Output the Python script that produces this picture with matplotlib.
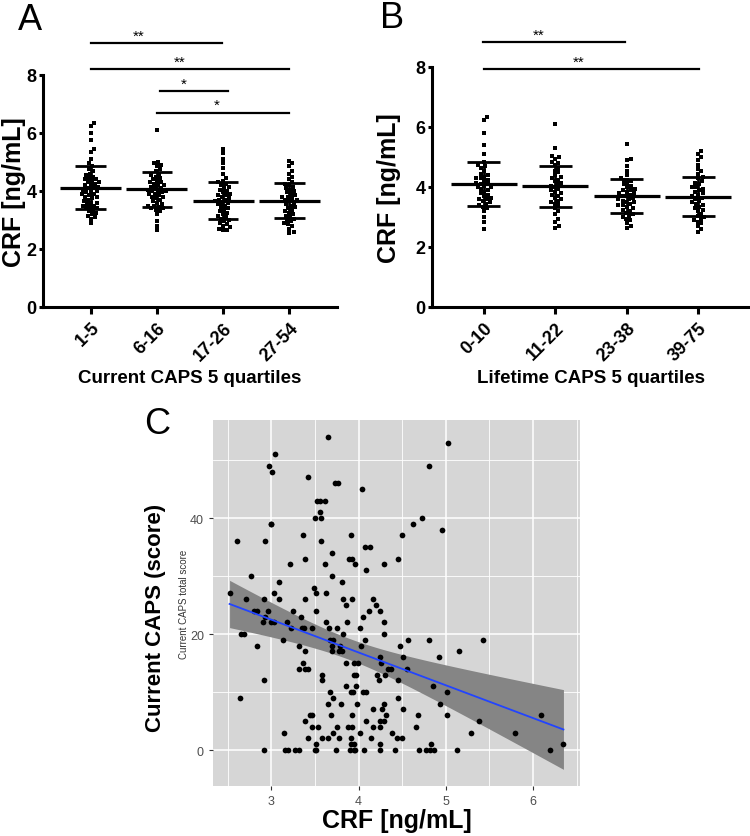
import numpy as np
import matplotlib
matplotlib.use("Agg")
import matplotlib.pyplot as plt
from matplotlib import font_manager

names = {f.name for f in font_manager.fontManager.ttflist}
SANS = "Liberation Sans" if "Liberation Sans" in names else "DejaVu Sans"
NARROW = "Liberation Sans Narrow" if "Liberation Sans Narrow" in names else SANS
plt.rcParams["font.family"] = SANS

# ---- panel A / B data (CRF ng/mL per quartile group) ----
a_labels = ["1-5", "6-16", "17-26", "27-54"]
a_mean = [4.12, 4.06, 3.67, 3.67]
a_sd = [0.74, 0.60, 0.64, 0.61]
a_dots = [
    [6.35, 6.25, 6.0, 5.75, 5.45, 5.35, 5.1, 4.95, 4.85, 4.75, 4.7, 4.6, 4.55, 4.5, 4.45, 4.4, 4.4, 4.35,
     4.3, 4.3, 4.25, 4.2, 4.2, 4.15, 4.1, 4.1, 4.05, 4.0, 4.0, 3.95, 3.9, 3.9, 3.85, 3.8, 3.8, 3.75, 3.7,
     3.65, 3.6, 3.6, 3.55, 3.5, 3.5, 3.45, 3.4, 3.4, 3.35, 3.3, 3.25, 3.2, 3.15, 3.1, 3.05, 2.9],
    [6.1, 5.0, 4.95, 4.9, 4.85, 4.75, 4.7, 4.6, 4.55, 4.5, 4.45, 4.4, 4.35, 4.3, 4.3, 4.25, 4.2, 4.2, 4.15,
     4.1, 4.1, 4.05, 4.0, 4.0, 4.0, 3.95, 3.9, 3.9, 3.85, 3.8, 3.8, 3.75, 3.7, 3.65, 3.6, 3.55, 3.5, 3.5,
     3.45, 3.4, 3.4, 3.35, 3.3, 3.2, 2.95, 2.8, 2.65],
    [5.45, 5.3, 5.1, 4.95, 4.8, 4.6, 4.45, 4.35, 4.3, 4.25, 4.2, 4.15, 4.1, 4.05, 4.0, 3.95, 3.9, 3.85,
     3.85, 3.8, 3.75, 3.7, 3.7, 3.65, 3.6, 3.6, 3.55, 3.5, 3.45, 3.4, 3.35, 3.3, 3.25, 3.2, 3.15, 3.1,
     3.05, 3.0, 2.95, 2.9, 2.85, 2.8, 2.75, 2.7, 2.65, 2.65],
    [5.05, 4.95, 4.85, 4.7, 4.6, 4.5, 4.4, 4.3, 4.25, 4.2, 4.15, 4.1, 4.05, 4.0, 3.95, 3.9, 3.85, 3.8,
     3.8, 3.75, 3.7, 3.7, 3.65, 3.6, 3.55, 3.5, 3.45, 3.4, 3.35, 3.3, 3.25, 3.2, 3.15, 3.1, 3.05, 3.0,
     2.95, 2.9, 2.85, 2.8, 2.7, 2.6, 2.55],
]
a_sig = [(0.0, 1.98, 9.1, "**", 0.73), (0.0, 3.0, 8.2, "**", 1.35),
         (1.05, 2.08, 7.45, "*", 1.4), (1.0, 3.0, 6.7, "*", 1.9)]

b_labels = ["0-10", "11-22", "23-38", "39-75"]
b_mean = [4.10, 4.02, 3.70, 3.68]
b_sd = [0.73, 0.69, 0.57, 0.65]
b_dots = [
    [6.35, 6.25, 5.8, 5.4, 5.1, 4.85, 4.75, 4.7, 4.65, 4.55, 4.45, 4.4, 4.35, 4.3, 4.3, 4.25, 4.2, 4.15,
     4.1, 4.1, 4.05, 4.0, 4.0, 3.95, 3.9, 3.85, 3.8, 3.75, 3.7, 3.65, 3.6, 3.6, 3.55, 3.5, 3.45, 3.4,
     3.35, 3.3, 3.2, 3.0, 2.85, 2.6],
    [6.1, 5.3, 5.05, 5.0, 4.95, 4.85, 4.8, 4.75, 4.65, 4.55, 4.5, 4.4, 4.35, 4.3, 4.25, 4.2, 4.15, 4.1,
     4.05, 4.0, 3.95, 3.9, 3.85, 3.8, 3.75, 3.7, 3.65, 3.6, 3.55, 3.5, 3.45, 3.4, 3.3, 3.2, 3.1, 2.95,
     2.85, 2.7, 2.65],
    [5.45, 4.95, 4.9, 4.7, 4.55, 4.4, 4.3, 4.25, 4.2, 4.15, 4.1, 4.05, 4.0, 3.95, 3.9, 3.9, 3.85, 3.8,
     3.8, 3.75, 3.7, 3.7, 3.65, 3.6, 3.6, 3.55, 3.5, 3.5, 3.45, 3.4, 3.4, 3.35, 3.3, 3.25, 3.2, 3.15,
     3.1, 3.05, 3.0, 2.95, 2.9, 2.8, 2.7, 2.65],
    [5.2, 5.1, 5.0, 4.9, 4.75, 4.6, 4.55, 4.45, 4.35, 4.3, 4.2, 4.15, 4.1, 4.0, 4.0, 3.95, 3.9, 3.85,
     3.8, 3.75, 3.7, 3.65, 3.6, 3.55, 3.5, 3.45, 3.4, 3.35, 3.3, 3.25, 3.2, 3.1, 3.05, 3.0, 2.95, 2.9,
     2.85, 2.8, 2.7, 2.6, 2.5],
]
b_sig = [(-0.01, 1.98, 8.83, "**", 0.77), (0.0, 3.01, 7.93, "**", 1.33)]

# ---- panel C data: CRF vs current CAPS total score ----
c_crf = [3.65, 5.03, 3.04, 2.97, 3.01, 4.81, 3.42, 3.73, 3.76, 4.04, 3.52, 3.56, 3.62, 3.56, 3.50, 3.57,
         4.73, 4.62, 2.99, 3.00, 4.96, 2.60, 2.93, 3.57, 3.36, 3.91, 4.50, 4.07, 4.13, 3.70, 3.38, 3.89,
         3.93, 4.45, 3.61, 3.21, 3.96, 4.29, 4.09, 2.77, 3.70, 3.09, 3.81, 3.49, 2.52, 3.03, 3.51, 3.63,
         2.71, 2.91, 3.09, 3.39, 3.82, 3.93, 4.17, 4.20, 3.86, 2.80, 2.83, 2.96, 3.25, 3.51, 4.12, 4.25,
         3.34, 2.93, 4.05, 3.00, 3.03, 2.90, 3.18, 3.63, 3.87, 4.29, 3.23, 3.35, 3.37, 3.46, 3.66, 3.75,
         4.02, 3.82, 4.29, 2.65, 2.68, 3.13, 3.67, 3.71, 4.07, 4.57, 4.81, 5.43, 4.03, 2.83, 3.32, 3.69,
         3.79, 4.47, 3.38, 3.70, 3.78, 3.81, 5.15, 4.25, 4.51, 4.92, 3.36, 3.85, 3.95, 3.99, 4.26, 3.32,
         3.38, 3.42, 4.34, 4.37, 4.56, 3.58, 3.95, 3.97, 4.21, 4.30, 2.91, 3.58, 4.23, 4.45, 3.86, 3.97,
         4.85, 3.67, 3.91, 3.94, 4.05, 4.09, 5.02, 2.64, 3.71, 4.45, 3.65, 3.80, 3.98, 4.29, 4.93, 4.27,
         4.17, 4.51, 4.31, 3.44, 3.46, 3.68, 3.93, 4.68, 6.09, 5.02, 3.38, 4.08, 4.25, 4.29, 5.38, 3.47,
         3.54, 3.75, 3.88, 3.93, 4.16, 4.25, 4.66, 3.14, 3.71, 4.02, 4.38, 5.29, 5.79, 3.42, 3.58, 3.65,
         3.77, 3.91, 4.14, 4.44, 4.50, 3.51, 3.91, 3.95, 4.24, 4.83, 6.35, 2.91, 3.16, 3.19, 3.27, 3.32,
         3.50, 3.51, 3.74, 3.90, 3.95, 3.96, 4.06, 4.24, 4.42, 4.69, 4.77, 4.82, 4.87, 5.13, 6.20]
c_caps = [54, 53, 51, 49, 48, 49, 47, 46, 46, 45, 43, 43, 43, 41, 40, 40,
          40, 39, 39, 39, 38, 36, 36, 36, 37, 37, 37, 35, 35, 34, 33, 33,
          33, 33, 32, 32, 32, 32, 31, 30, 30, 29, 29, 28, 27, 27, 27, 27,
          26, 26, 26, 26, 26, 26, 26, 25, 25, 24, 24, 24, 24, 24, 24, 24,
          23, 23, 23, 22, 22, 22, 22, 22, 22, 22, 21, 21, 21, 21, 21, 21,
          21, 20, 20, 20, 20, 19, 19, 19, 19, 19, 19, 19, 18, 18, 18, 18,
          18, 18, 17, 17, 17, 17, 17, 16, 16, 16, 15, 15, 15, 15, 15, 14,
          14, 14, 14, 14, 14, 13, 13, 13, 13, 13, 12, 12, 12, 12, 11, 11,
          11, 10, 10, 10, 10, 10, 10, 9, 9, 9, 8, 8, 8, 8, 8, 7,
          7, 7, 6, 6, 6, 6, 6, 6, 6, 6, 5, 5, 5, 5, 5, 4,
          4, 4, 4, 4, 4, 4, 4, 3, 3, 3, 3, 3, 3, 2, 2, 2,
          2, 2, 2, 2, 2, 1, 1, 1, 1, 1, 1, 0, 0, 0, 0, 0,
          0, 0, 0, 0, 0, 0, 0, 0, 0, 0, 0, 0, 0, 0, 0]


def swarm_x(ax, center, values, min_dist=3.9, step=0.6):
    # simple beeswarm: push each dot sideways (in pixels) until it does not overlap
    tr = ax.transData
    inv = tr.inverted()
    placed = []
    out = np.zeros(len(values))
    for i in np.argsort(values):
        px, py = tr.transform((center, values[i]))
        offs = [0.0]
        for k in range(1, 60):
            offs += [k * step, -k * step]
        for off in offs:
            if all((off - ox) ** 2 + (py - oy) ** 2 >= min_dist ** 2 for ox, oy in placed):
                break
        placed.append((off, py))
        out[i] = inv.transform((px + off, py))[0]
    return out


def dot_panel(ax, labels, means, sds, dots, sig, xlabel, ylab_x):
    ax.set_xlim(-0.72, 3.72)
    ax.set_ylim(0, 8)
    for s in ["top", "right"]:
        ax.spines[s].set_visible(False)
    for s in ["left", "bottom"]:
        ax.spines[s].set_linewidth(2.2)
    ax.tick_params(axis="x", width=2.2, length=5, labelsize=13)
    ax.tick_params(axis="y", width=2.2, length=3, pad=1.5, labelsize=13)
    ax.set_yticks([0, 2, 4, 6, 8])
    ax.set_xticks(range(len(labels)))
    ax.set_xticklabels(labels, rotation=45, ha="right", rotation_mode="anchor",
                       fontsize=13, fontweight="bold", family=NARROW)
    for t in ax.get_yticklabels():
        t.set_fontweight("bold")
    for i, vals in enumerate(dots):
        xs = swarm_x(ax, i, vals)
        ax.plot(xs, vals, "s", color="black", markersize=2.3, markeredgewidth=0)
        m, sd = means[i], sds[i]
        ax.plot([i - 0.46, i + 0.46], [m, m], color="black", lw=2.3, solid_capstyle="butt")
        ax.plot([i, i], [m - sd, m + sd], color="black", lw=2.0)
        for y in (m - sd, m + sd):
            ax.plot([i - 0.23, i + 0.23], [y, y], color="black", lw=2.0, solid_capstyle="butt")
    for x0, x1, y, txt, tx in sig:
        ax.plot([x0, x1], [y, y], color="black", lw=1.6, clip_on=False)
        ax.text(tx, y + 0.02, txt, ha="center", va="bottom", fontsize=11, clip_on=False)
    ax.set_ylabel("CRF [ng/mL]", fontsize=18, fontweight="bold")
    ax.yaxis.set_label_coords(ylab_x, 0.5)
    ax.yaxis.label.set_verticalalignment("center")
    ax.set_xlabel(xlabel, fontsize=13.5, fontweight="bold", family=NARROW, labelpad=4)


fig = plt.figure(figsize=(7.5, 8.37), dpi=100)

axA = fig.add_axes([43 / 750, 1 - 308 / 837, 294 / 750, 232 / 837])
dot_panel(axA, a_labels, a_mean, a_sd, a_dots, a_sig, "Current CAPS 5 quartiles", -0.097)
axB = fig.add_axes([432 / 750, 1 - 308 / 837, 318 / 750, 240 / 837])
dot_panel(axB, b_labels, b_mean, b_sd, b_dots, b_sig, "Lifetime CAPS 5 quartiles", -0.135)

fig.text(30 / 750, 1 - 20 / 837, "A", fontsize=26, ha="center", va="center")
fig.text(392 / 750, 1 - 19 / 837, "B", fontsize=26, ha="center", va="center")
fig.text(157 / 750, 1 - 424 / 837, "C", fontsize=26, ha="center", va="center")

# ---- panel C (ggplot-like) ----
axC = fig.add_axes([213 / 750, 1 - 787 / 837, 367 / 750, 366 / 837])
axC.set_facecolor("#d6d6d6")
for s in axC.spines.values():
    s.set_visible(False)
axC.set_xlim(2.33, 6.54)
axC.set_ylim(-6.2, 56.9)
axC.set_xticks([3, 4, 5, 6])
axC.set_yticks([0, 20, 40])
axC.set_xticks([2.5, 3.5, 4.5, 5.5, 6.5], minor=True)
axC.set_yticks([10, 30, 50], minor=True)
axC.grid(True, which="major", color="white", lw=1.1)
axC.grid(True, which="minor", color="white", lw=0.6)
axC.set_axisbelow(True)
axC.tick_params(which="major", length=3, width=0.8, color="#333333", labelcolor="#4d4d4d",
                labelsize=9)
axC.tick_params(which="minor", length=0)
for t in axC.get_xticklabels() + axC.get_yticklabels():
    t.set_family(NARROW)

X = np.array(c_crf)
Y = np.array(c_caps, dtype=float)
slope, intercept = np.polyfit(X, Y, 1)
xs = np.linspace(X.min(), X.max(), 80)
fit = intercept + slope * xs
n = len(X)
resid = Y - (intercept + slope * X)
s = np.sqrt(np.sum(resid ** 2) / (n - 2))
se = s * np.sqrt(1 / n + (xs - X.mean()) ** 2 / np.sum((X - X.mean()) ** 2))
axC.fill_between(xs, fit - 1.97 * se, fit + 1.97 * se, color="#858585", lw=0, zorder=2)
axC.scatter(X, Y, s=17, color="black", zorder=3, linewidths=0)
axC.plot(xs, fit, color="#2244ff", lw=1.3, zorder=4)

axC.set_ylabel("Current CAPS total score", fontsize=7, color="#333333")
axC.yaxis.set_label_coords(-0.08, 0.5)
axC.yaxis.label.set_verticalalignment("center")
axC.set_xlabel("CRF [ng/mL]", fontsize=18, fontweight="bold", family=NARROW, labelpad=1)
fig.text(155 / 750, 1 - 618 / 837, "Current CAPS (score)", rotation=90, fontsize=16,
         fontweight="bold", ha="center", va="center")

fig.savefig("out.png", dpi=100)
